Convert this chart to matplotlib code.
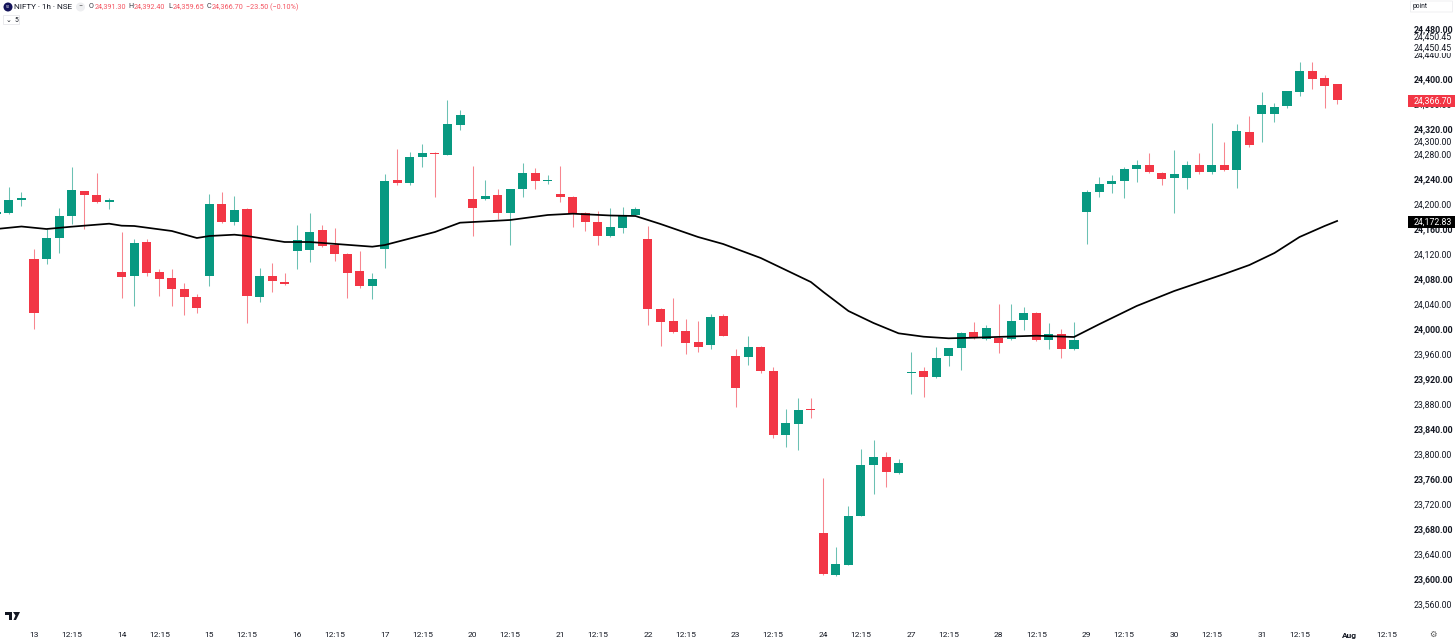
import matplotlib
matplotlib.use("Agg")
import matplotlib.pyplot as plt
from matplotlib.patches import Ellipse, FancyBboxPatch, Polygon, Rectangle

plt.rcParams['font.family'] = ['Roboto', 'DejaVu Sans']

GREEN = '#089981'
RED = '#F23645'
INK = '#131722'

# candles, first one sits just off the left edge
first_idx = -3
opens = [24184.0, 24185.1, 24206.9, 24111.5, 24112.5, 24145.1, 24180.3, 24220.3, 24213.9, 24203.7,
         24091.7, 24084.8, 24139.7, 24091.7, 24081.1, 24064.5, 24050.7, 24084.3, 24200.5, 24171.7,
         24192.0, 24051.7, 24085.3, 24075.2, 24124.8, 24126.9, 24157.9, 24134.9, 24119.5, 24092.8,
         24069.3, 24128.5, 24237.9, 24234.1, 24274.7, 24282.1, 24278.9, 24326.9, 24208.5, 24208.0,
         24213.9, 24186.1, 24223.5, 24249.1, 24237.4, 24216.0, 24210.7, 24185.1, 24171.2, 24149.3,
         24161.1, 24182.4, 24144.0, 24032.5, 24013.3, 23996.3, 23978.7, 23974.4, 24020.8, 23956.8,
         23955.7, 23970.7, 23933.3, 23829.9, 23848.5, 23871.5, 23673.6, 23606.9, 23622.4, 23701.3,
         23782.4, 23795.7, 23770.1, 23929.1, 23932.3, 23923.7, 23957.3, 23970.1, 23995.7, 23983.5,
         23986.1, 23984.0, 24013.9, 24025.1, 23981.9, 23991.5, 23967.5, 24186.7, 24219.2, 24231.5,
         24237.3, 24256.0, 24261.9, 24250.1, 24241.6, 24241.6, 24262.9, 24251.7, 24261.9, 24253.9,
         24315.7, 24344.5, 24344.5, 24356.3, 24379.7, 24412.3, 24401.1, 24391.3]
highs = [24188.0, 24226.7, 24219.7, 24127.5, 24160.0, 24193.1, 24258.7, 24221.5, 24249.1, 24209.1,
         24155.7, 24144.0, 24143.5, 24095.5, 24095.5, 24073.1, 24056.0, 24216.0, 24218.7, 24213.3,
         24193.0, 24097.1, 24105.1, 24089.6, 24165.9, 24185.1, 24166.4, 24161.6, 24121.1, 24124.3,
         24089.1, 24247.5, 24287.5, 24282.7, 24296.0, 24283.0, 24366.4, 24350.4, 24260.8, 24237.9,
         24223.5, 24224.0, 24265.1, 24257.6, 24246.4, 24260.8, 24213.3, 24187.2, 24188.8, 24193.1,
         24195.7, 24194.7, 24164.8, 24033.0, 24049.1, 24015.5, 24013.3, 24023.5, 24024.0, 23968.0,
         23988.8, 23972.8, 23938.7, 23871.5, 23889.6, 23889.1, 23762.1, 23651.7, 23716.8, 23807.5,
         23822.4, 23803.7, 23791.5, 23962.7, 23938.7, 23971.7, 23970.0, 23995.7, 24010.7, 24006.4,
         24040.0, 24040.0, 24034.7, 24026.7, 24010.1, 24000.0, 24011.2, 24222.4, 24243.2, 24245.9,
         24259.7, 24269.9, 24282.1, 24251.2, 24286.4, 24268.8, 24281.1, 24330.1, 24298.7, 24328.0,
         24341.3, 24379.7, 24361.1, 24381.0, 24426.7, 24427.2, 24405.9, 24392.4]
lows = [24183.0, 24183.5, 24196.3, 23999.5, 24103.5, 24122.1, 24168.0, 24160.5, 24201.1, 24191.5,
        24049.6, 24036.8, 24084.8, 24053.3, 24037.3, 24022.9, 24026.1, 24068.8, 24170.1, 24166.4,
        24010.1, 24043.7, 24059.7, 24069.9, 24096.0, 24106.7, 24131.7, 24109.3, 24050.1, 24065.1,
        24048.5, 24098.1, 24230.0, 24230.9, 24258.7, 24211.7, 24278.0, 24318.9, 24149.3, 24207.0,
        24175.5, 24134.9, 24211.7, 24223.5, 24232.0, 24202.7, 24163.2, 24156.8, 24134.4, 24147.7,
        24154.1, 24181.9, 24006.4, 23973.3, 23994.0, 23960.5, 23963.7, 23967.5, 23989.0, 23875.7,
        23942.4, 23930.1, 23825.1, 23811.2, 23806.9, 23857.1, 23607.0, 23605.5, 23622.0, 23700.3,
        23735.5, 23747.2, 23767.5, 23896.0, 23891.7, 23922.1, 23941.3, 23934.4, 23983.5, 23982.4,
        23961.1, 23983.0, 23998.4, 23981.3, 23967.5, 23953.6, 23967.0, 24136.0, 24211.7, 24217.6,
        24209.1, 24234.7, 24249.1, 24230.4, 24186.1, 24224.0, 24248.0, 24248.0, 24252.8, 24226.1,
        24291.7, 24298.7, 24331.7, 24354.1, 24373.3, 24384.5, 24353.6, 24359.65]
closes = [24187.2, 24206.4, 24210.1, 24026.1, 24145.6, 24180.3, 24221.9, 24213.9, 24203.7, 24206.9,
          24083.7, 24137.1, 24090.1, 24079.5, 24063.5, 24050.7, 24033.6, 24200.5, 24171.2, 24189.9,
          24053.3, 24085.3, 24076.3, 24071.5, 24143.1, 24155.7, 24132.8, 24119.5, 24089.6, 24069.3,
          24079.5, 24237.3, 24234.1, 24274.7, 24281.1, 24279.5, 24328.0, 24341.9, 24193.1, 24213.3,
          24186.1, 24223.5, 24249.1, 24236.3, 24238.4, 24211.2, 24184.0, 24171.7, 24149.3, 24162.7,
          24181.9, 24192.0, 24031.5, 24011.7, 23994.7, 23977.1, 23971.7, 24018.7, 23989.3, 23906.1,
          23970.7, 23932.3, 23829.9, 23849.6, 23870.9, 23870.7, 23607.5, 23623.5, 23701.3, 23782.4,
          23795.7, 23771.2, 23785.6, 23931.7, 23923.2, 23954.1, 23969.1, 23994.1, 23985.1, 24002.1,
          23977.1, 24013.3, 24025.1, 23981.9, 23991.5, 23968.0, 23982.4, 24218.7, 24231.5, 24236.3,
          24255.5, 24262.4, 24250.7, 24240.5, 24247.5, 24262.9, 24251.7, 24261.9, 24253.9, 24316.3,
          24294.9, 24357.9, 24355.7, 24380.3, 24412.8, 24400.5, 24388.3, 24366.7]

# moving average, read at the bends of the line
ma_idx = [-3, -1, 1, 3, 6, 7, 8, 11, 13, 14, 16, 17, 20, 22, 27, 28, 32, 34, 37, 38, 41, 43, 46, 48,
          50, 53, 55, 58, 60, 62, 63, 65, 67, 69, 71, 73, 75, 80, 83, 85, 88, 91, 95, 97, 99, 101, 103, 104]
ma_val = [24160.0, 24164.0, 24160.0, 24163.7, 24168.5, 24165.3, 24164.8, 24156.8, 24145.6, 24148.8,
          24150.9, 24148.8, 24139.2, 24139.2, 24131.7, 24134.4, 24155.2, 24170.1, 24173.3, 24174.4,
          24182.4, 24184.5, 24181.6, 24180.8, 24168.0, 24147.2, 24136.0, 24113.6, 24094.4, 24075.2,
          24059.2, 24028.8, 24009.6, 23993.1, 23987.7, 23985.1, 23986.1, 23989.3, 23987.2, 24007.5,
          24036.8, 24060.8, 24088.0, 24102.4, 24121.6, 24147.2, 24164.8, 24172.83]

x_ticks = [0, 3, 7, 10, 14, 17, 21, 24, 28, 31, 35, 38, 42, 45, 49, 52, 56, 59, 63, 66, 70, 73, 77, 80,
           84, 87, 91, 94, 98, 101, 105, 108]
x_labels = ['13', '12:15', '14', '12:15', '15', '12:15', '16', '12:15', '17', '12:15', '20', '12:15',
            '21', '12:15', '22', '12:15', '23', '12:15', '24', '12:15', '27', '12:15', '28', '12:15',
            '29', '12:15', '30', '12:15', '31', '12:15', 'Aug', '12:15']

y_major = [24480, 24400, 24320, 24240, 24160, 24080, 24000, 23920, 23840, 23760, 23680, 23600]
y_minor = [24440, 24360, 24300, 24280, 24200, 24120, 24040, 23960, 23880, 23800, 23720, 23640, 23560]

W, H = 1456, 643
Y_SIZE = 6.3


def px(x, y):
    return x / W, 1 - y / H


def dot(x, y, d, color):
    fig.add_artist(Ellipse(px(x, y), d / W, d / H, transform=fig.transFigure, fc=color, ec='none'))


fig = plt.figure(figsize=(W / 100, H / 100), dpi=100)
ax = fig.add_axes([0, 1 - 620 / H, 1404 / W, 620 / H])

idx = list(range(first_idx, first_idx + len(opens)))
colors = [GREEN if c >= o else RED for o, c in zip(opens, closes)]
ax.vlines(idx, lows, highs, colors=colors, linewidth=0.75, alpha=0.6, zorder=2)
ax.bar(idx, [abs(c - o) for o, c in zip(opens, closes)],
       bottom=[min(o, c) for o, c in zip(opens, closes)],
       width=0.72, color=colors, linewidth=0, zorder=3)
ax.plot(ma_idx, ma_val, color='black', linewidth=1.25, zorder=4)

ax.set_xlim(-34 / 12.53, (1404 - 34) / 12.53)
ax.set_ylim(24400 - (620 - 79) * 1.6, 24400 + 79 * 1.6)
for s in ax.spines.values():
    s.set_visible(False)

ax.set_xticks(x_ticks)
ax.set_xticklabels(x_labels, fontsize=6.0, color=INK)
ax.get_xticklabels()[x_labels.index('Aug')].set_fontweight('bold')
ax.tick_params(axis='x', length=0, pad=8.5)

ax.yaxis.tick_right()
ax.set_yticks(y_major + y_minor)
ax.set_yticklabels([f'{v:,.2f}' for v in y_major + y_minor], fontsize=Y_SIZE, color=INK)
for lab, v in zip(ax.get_yticklabels(), y_major + y_minor):
    if v in y_major:
        lab.set_fontweight('bold')
ax.tick_params(axis='y', length=0, pad=7)

ytrans = ax.get_yaxis_transform()
ax.text(1.0072, 24467.2, '24,450.45', transform=ytrans, fontsize=Y_SIZE, color=INK, va='center', clip_on=False)
ax.text(1.0072, 24449.6, '24,450.45', transform=ytrans, fontsize=Y_SIZE, color=INK, va='center', clip_on=False,
        bbox=dict(fc='white', ec='none', pad=0.6), zorder=5)

# last price and average tags on the scale, the boxes sit a pixel under the price
for price, tag, fc in [(24366.7, '24,366.70', RED), (24172.83, '24,172.83', 'black')]:
    ax.add_patch(Rectangle((1.0029, price - 11.2), 0.0336, 19.2, transform=ytrans, fc=fc, ec='none',
                           clip_on=False, zorder=6))
    ax.text(1.0072, price - 1.6, tag, transform=ytrans, fontsize=Y_SIZE, color='white', va='center',
            clip_on=False, zorder=7)

# header row
dot(8, 7, 9, '#14145A')
x0, y0 = px(8, 7.3)
fig.text(x0, y0, '50', fontsize=2.6, color='white', ha='center', va='center')
x0, y0 = px(14.5, 7)
fig.text(x0, y0, 'NIFTY · 1h · NSE', fontsize=5.9, color=INK, va='center')
dot(80.5, 7, 9, '#EEEFF1')
x0, y0 = px(80.5, 7)
fig.text(x0, y0, '−', fontsize=5, color='#555555', ha='center', va='center')
for x, s, c in [(89, 'O', INK), (94.5, '24,391.30', RED), (128.5, 'H', INK), (134, '24,392.40', RED),
                (168, 'L', INK), (172.5, '24,359.65', RED), (206.5, 'C', INK), (212, '24,366.70', RED),
                (246, '−23.50 (−0.10%)', RED)]:
    x0, y0 = px(x, 7)
    fig.text(x0, y0, s, fontsize=5.2, color=c, va='center', alpha=0.85)

# collapse box under the header
x0, y0 = px(3.5, 15.5)
fig.add_artist(FancyBboxPatch((x0, y0 - 9 / H), 16 / W, 9 / H, boxstyle='round,pad=0', transform=fig.transFigure,
                              fc='white', ec='#E6E7EA', linewidth=0.6))
x0, y0 = px(6, 19.5)
fig.text(x0, y0, '⌄', fontsize=5, color=INK, va='center', family=['DejaVu Sans'])
x0, y0 = px(14, 20)
fig.text(x0, y0, '5', fontsize=4.8, color=INK, va='center')

# currency mode box top right
x0, y0 = px(1410.5, 1)
fig.add_artist(FancyBboxPatch((x0, y0 - 11 / H), 42 / W, 11 / H, boxstyle='round,pad=0', transform=fig.transFigure,
                              fc='white', ec='#ECEDEF', linewidth=0.6))
x0, y0 = px(1412.5, 6.7)
fig.text(x0, y0, 'point', fontsize=4.8, color=INK, va='center')

# TV logo and settings icon
logo = [[(5, 612), (12, 612), (12, 620), (9, 620), (9, 615), (5, 615)],
        [(13, 612), (20, 612), (16, 620), (13.5, 620), (15.5, 615.5)]]
for pts in logo:
    fig.add_artist(Polygon([px(x, y) for x, y in pts], transform=fig.transFigure, fc=INK, ec='none'))

x0, y0 = px(1432.5, 634.5)
fig.text(x0, y0, '⚙', fontsize=6, color='#555555', ha='center', va='center', family=['DejaVu Sans'])

fig.savefig('out.png', dpi=100)
